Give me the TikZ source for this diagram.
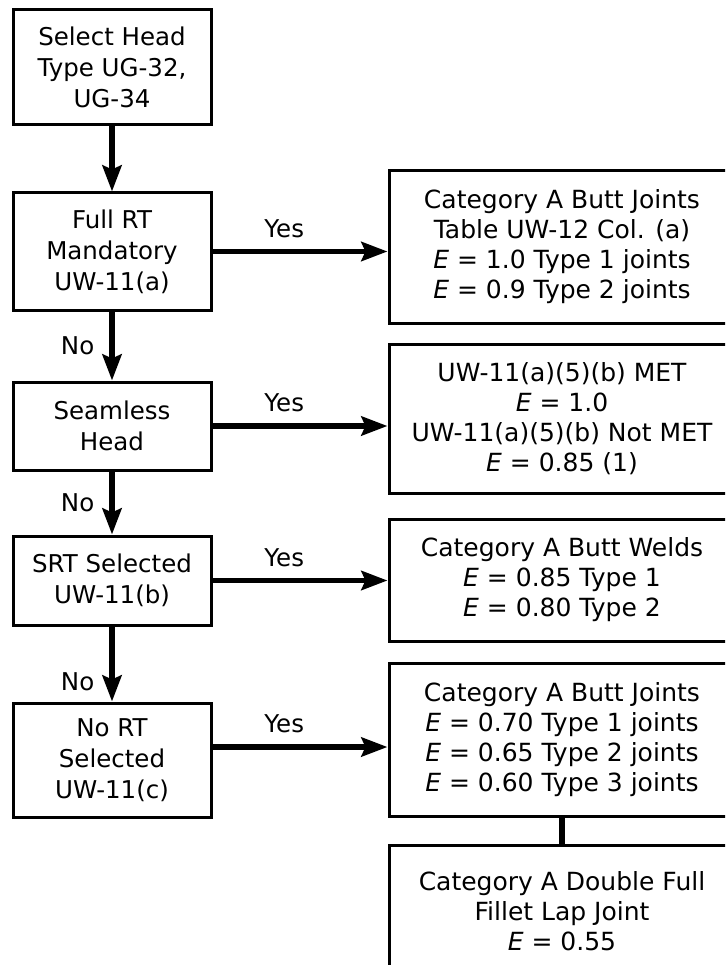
\documentclass[tikz,border=0pt]{standalone}
\usepackage{fontspec}
\setmainfont{DejaVu Sans}
\usetikzlibrary{arrows.meta,calc}
\begin{document}
\begin{tikzpicture}[x=1pt,y=-1pt,
  box/.style={draw, line width=3pt, inner sep=0pt, align=center},
  lbox/.style={box, minimum width=198pt, font=\fontsize{24.5}{31}\selectfont},
  rbox/.style={box, minimum width=346pt, font=\fontsize{25}{30}\selectfont},
  flow/.style={line width=5.5pt, -{Stealth[length=26pt,width=19pt,inset=4pt]}},
  lab/.style={font=\fontsize{24.5}{29}\selectfont, inner sep=0pt}]
\useasboundingbox (0,0) rectangle (725,965);
\clip (0,0) rectangle (725,965);
% left column
\node[lbox, minimum height=115pt] (b1) at (112,67.5) {Select Head\\Type UG-32,\\UG-34};
\node[lbox, minimum height=117pt] (b2) at (112,251.5) {Full RT\\Mandatory\\UW-11(a)};
\node[lbox, minimum height=88pt] (b3) at (112,426) {Seamless\\Head};
\node[lbox, minimum height=89pt] (b4) at (112,580.5) {SRT Selected\\UW-11(b)};
\node[lbox, minimum height=114pt] (b5) at (112,760) {No RT\\Selected\\UW-11(c)};
% right column
\node[rbox, minimum height=152pt] (r1) at (562,247) {Category A Butt Joints\\Table UW-12 Col. (a)\\\textit{E} = 1.0 Type 1 joints\\\textit{E} = 0.9 Type 2 joints};
\node[rbox, minimum height=149pt] (r2) at (562,418.5) {UW-11(a)(5)(b) MET\\\textit{E} = 1.0\\UW-11(a)(5)(b) Not MET\\\textit{E} = 0.85 (1)};
\node[rbox, minimum height=122pt] (r3) at (562,580) {Category A Butt Welds\\\textit{E} = 0.85 Type 1\\\textit{E} = 0.80 Type 2};
\node[rbox, minimum height=153pt] (r4) at (562,739.5) {Category A Butt Joints\\\textit{E} = 0.70 Type 1 joints\\\textit{E} = 0.65 Type 2 joints\\\textit{E} = 0.60 Type 3 joints};
\node[rbox, minimum height=132pt] (r5) at (562,911) {Category A Double Full\\Fillet Lap Joint\\\textit{E} = 0.55};
% vertical flow
\draw[flow] (b1) -- (b2);
\draw[flow] (b2) -- node[lab, pos=0.5, left=15pt] {No} (b3);
\draw[flow] (b3) -- node[lab, pos=0.5, left=15pt] {No} (b4);
\draw[flow] (b4) -- node[lab, pos=0.74, left=15pt] {No} (b5);
% yes arrows
\draw[flow] (b2.east) -- node[lab, pos=0.41, above=11pt] {Yes} (b2.east -| r1.west);
\draw[flow] (b3.east) -- node[lab, pos=0.41, above=11pt] {Yes} (b3.east -| r2.west);
\draw[flow] (b4.east) -- node[lab, pos=0.41, above=11pt] {Yes} (b4.east -| r3.west);
\coordinate (y5) at (0,747);
\draw[flow] (b5.east |- y5) -- node[lab, pos=0.41, above=11pt] {Yes} (r4.west |- y5);
% connector
\draw[line width=5.5pt] (r4.south) -- (r5.north);
\end{tikzpicture}
\end{document}
